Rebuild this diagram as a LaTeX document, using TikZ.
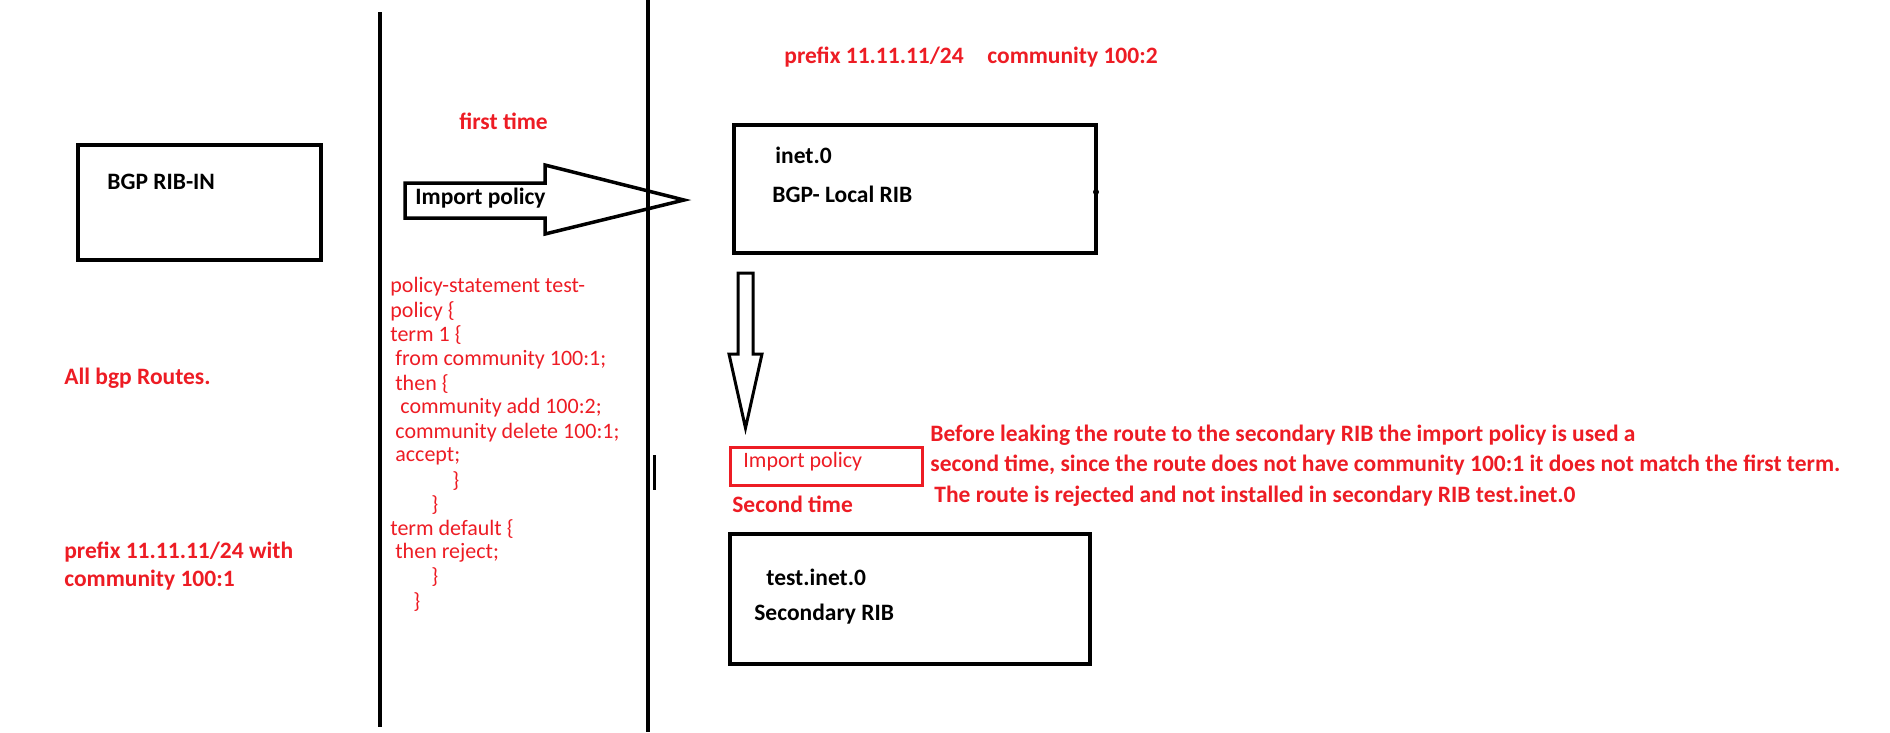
\documentclass[tikz,border=0pt]{standalone}
\usepackage{fontspec}
\setmainfont{Carlito}
\definecolor{redtxt}{RGB}{237,28,36}
\tikzset{every picture/.style={line width=0.75pt}}
\tikzset{
  rib/.style={draw=black,line width=4pt},
  lbl/.style={anchor=west,inner sep=0pt,font=\fontsize{22}{24}\selectfont},
  blbl/.style={lbl,font=\fontsize{23.5}{26}\selectfont\bfseries},
  redlbl/.style={blbl,text=redtxt},
  codeln/.style={lbl,text=redtxt,font=\fontsize{22}{24}\selectfont}
}
\begin{document}
\begin{tikzpicture}[x=1pt,y=1pt,yscale=-1,xscale=1]
\useasboundingbox (0,0) rectangle (1890,732);

% divider lines
\draw [line width=3.5pt] (380,12) -- (380,727);
\draw [line width=3.5pt] (648,0) -- (648,732);
\draw [line width=3pt] (654,455) -- (654,490);

% Text Node
\draw [rib] (78,145) rectangle (321,260);
\node (ribin) [blbl] at (107,182) {BGP RIB-IN};
\node (allbgp) [redlbl] at (64,378) {All bgp Routes.};
\node (pfx1) [redlbl] at (64,552) {prefix 11.11.11/24 with};
\node (pfx1b) [redlbl] at (64,580) {community 100:1};

% first import
\node (first) [redlbl] at (459,121) {first time};
\draw [line width=3.5pt,line join=miter] (405,183) -- (545,183) -- (545,165) -- (684,200) -- (545,234) -- (545,218) -- (405,218) -- cycle;
\node (imp1) [blbl] at (415,198) {Import policy};

% policy text
\foreach \n/\xx/\tx [count=\i] in {
  a/390/{policy-statement test-},
  b/390/{policy \{},
  c/390/{term 1 \{},
  d/395/{from community 100:1;},
  e/395/{then \{},
  f/400/{community add 100:2;},
  g/395/{community delete 100:1;},
  h/395/{accept;},
  i/452/{\}},
  j/431/{\}},
  k/390/{term default \{},
  l/395/{then reject;},
  m/431/{\}},
  n/413/{\}}}
  \node (code\n) [codeln] at (\xx,{287+(\i-1)*24.2}) {\tx};

% local RIB
\node (pfx2) [redlbl] at (784,57) {prefix 11.11.11/24};
\node (comm2) [redlbl] at (987,57) {community 100:2};
\draw [rib] (734,125) rectangle (1096,253);
\fill (1096,192) circle (3pt);
\node (inet) [blbl] at (775,155) {inet.0};
\node (local) [blbl] at (772,194) {BGP- Local RIB};

% down arrow
\draw [line width=3pt,line join=miter] (738,273) -- (753,273) -- (753,354) -- (762,354) -- (745.5,428) -- (729,354) -- (738,354) -- cycle;

% second import
\draw [draw=redtxt,line width=3pt] (730,447) rectangle (922,485);
\node (imp2) [lbl,text=redtxt] at (743,462) {Import policy};
\node (second) [redlbl] at (732,504) {Second time};
\node (note1) [redlbl] at (930,435) {Before leaking the route to the secondary RIB the import policy is used a};
\node (note2) [redlbl] at (930,465) {second time, since the route does not have community 100:1 it does not match the first term.};
\node (note3) [redlbl] at (934,496) {The route is rejected and not installed in secondary RIB test.inet.0};

% secondary RIB
\draw [rib] (730,534) rectangle (1090,664);
\node (tinet) [blbl] at (766,577) {test.inet.0};
\node (sec) [blbl] at (754,614) {Secondary RIB};

\end{tikzpicture}
\end{document}
